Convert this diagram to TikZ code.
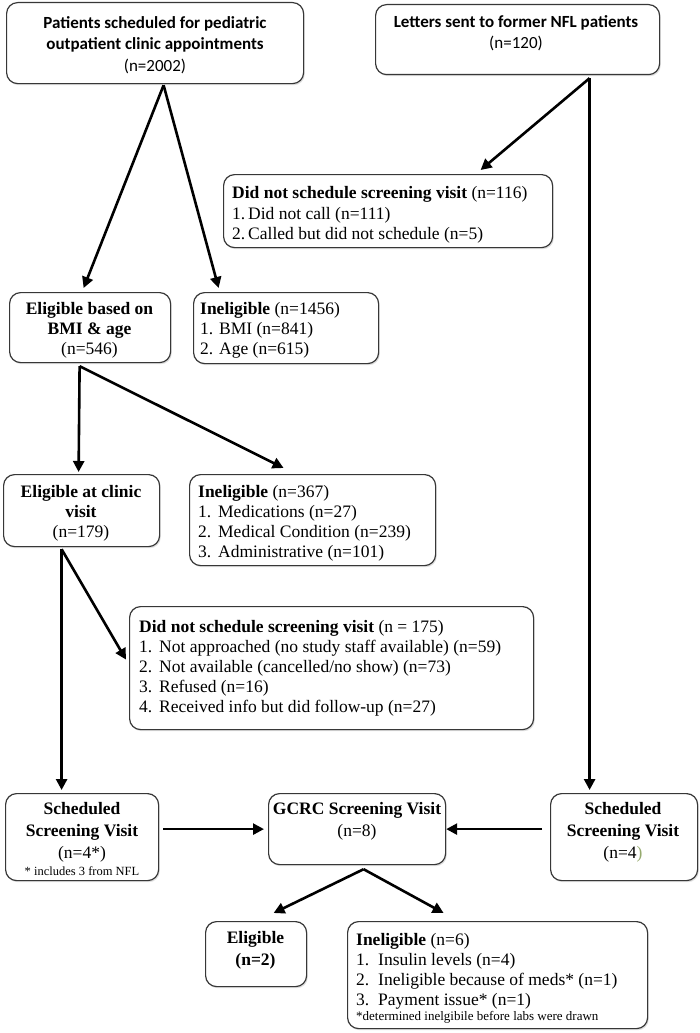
\documentclass[tikz,border=0pt]{standalone}
\usepackage{fontspec}
\setmainfont{Liberation Serif}
\newfontfamily\calfont{Carlito}
\usetikzlibrary{arrows.meta,calc,shadows}
\definecolor{boxline}{RGB}{55,55,55}
\definecolor{olivep}{RGB}{150,170,110}
\newcommand{\nm}[2]{\makebox[#1pt][l]{#2}}
\begin{document}
\begin{tikzpicture}[x=1pt,y=-1pt,
  box/.style={draw=boxline, line width=1.2pt, rounded corners=11pt, fill=white,
    inner sep=0pt, anchor=north west,
    drop shadow={shadow xshift=1.2pt, shadow yshift=-1.6pt, opacity=0.25}},
  ctxt/.style={inner sep=0pt, anchor=north, align=center, font=\fontsize{17.5}{20}\selectfont},
  ltxt/.style={inner sep=0pt, anchor=north west, align=left, font=\fontsize{17.5}{20}\selectfont},
  ctop/.style={inner sep=0pt, anchor=north, align=center, font=\calfont\fontsize{17}{21.5}\selectfont},
  note/.style={inner sep=0pt, anchor=base west, font=\fontsize{13}{15}\selectfont},
  arr/.style={line width=2.6pt, -{Triangle[length=11pt,width=11pt]}}]
\useasboundingbox (0,0) rectangle (700,1033);

% boxes
\node[box, minimum width=297pt, minimum height=81pt] (P) at (6,2) {};
\node[box, minimum width=284pt, minimum height=70pt] (L) at (375,4) {};
\node[box, minimum width=329pt, minimum height=73pt] (D1) at (223,174) {};
\node[box, minimum width=161pt, minimum height=70pt] (E1) at (9,292) {};
\node[box, minimum width=185pt, minimum height=71pt] (I1) at (193,292) {};
\node[box, minimum width=156pt, minimum height=72pt] (E2) at (3,474) {};
\node[box, minimum width=246pt, minimum height=91pt] (I2) at (189,474) {};
\node[box, minimum width=404pt, minimum height=123pt] (D2) at (129,606) {};
\node[box, minimum width=153pt, minimum height=87pt] (S1) at (5,793) {};
\node[box, minimum width=177pt, minimum height=71pt] (G) at (268,793) {};
\node[box, minimum width=147pt, minimum height=87pt] (S2) at (550,793) {};
\node[box, minimum width=101pt, minimum height=65pt] (E3) at (205,921) {};
\node[box, minimum width=300pt, minimum height=107pt] (I3) at (347,921) {};

% texts
\node[ctop] (tP) at (155,13) {\strut\textbf{Patients scheduled for pediatric}\\\textbf{outpatient clinic appointments}\\(n=2002)};
\node[ctop] (tL) at (516,12) {\strut\textbf{Letters sent to former NFL patients}\\(n=120)};
\node[ltxt, font=\fontsize{17.5}{20.5}\selectfont] (tD1) at (232,184.2) {\strut\textbf{Did not schedule screening visit} (n=116)\\\nm{16}{1.}Did not call (n=111)\\\nm{16}{2.}Called but did not schedule (n=5)};
\node[ctxt] (tE1) at (89.5,300.2) {\strut\textbf{Eligible based on}\\\textbf{BMI \& age}\\(n=546)};
\node[ltxt] (tI1) at (200,300.2) {\strut\textbf{Ineligible} (n=1456)\\\nm{19}{1.}BMI (n=841)\\\nm{19}{2.}Age (n=615)};
\node[ctxt] (tE2) at (81,483.2) {\strut\textbf{Eligible at clinic}\\\textbf{visit}\\(n=179)};
\node[ltxt] (tI2) at (198,483.2) {\strut\textbf{Ineligible} (n=367)\\\nm{20}{1.}Medications (n=27)\\\nm{20}{2.}Medical Condition (n=239)\\\nm{20}{3.}Administrative (n=101)};
\node[ltxt] (tD2) at (139,618.2) {\strut\textbf{Did not schedule screening visit} (n = 175)\\\nm{20}{1.}Not approached (no study staff available) (n=59)\\\nm{20}{2.}Not available (cancelled/no show) (n=73)\\\nm{20}{3.}Refused (n=16)\\\nm{20}{4.}Received info but did follow-up (n=27)};
\node[ctxt, font=\fontsize{17.5}{22}\selectfont] (tS1) at (82,798.7) {\strut\textbf{Scheduled}\\\textbf{Screening Visit}\\(n=4*)};
\node[inner sep=0pt, anchor=base, font=\fontsize{12.5}{14}\selectfont] (nS1) at (82,875) {* includes 3 from NFL};
\node[ctxt, font=\fontsize{17.5}{22}\selectfont] (tG) at (357,798.7) {\strut\textbf{GCRC Screening Visit}\\(n=8)};
\node[ctxt, font=\fontsize{17.5}{22}\selectfont] (tS2) at (623,798.7) {\strut\textbf{Scheduled}\\\textbf{Screening Visit}\\(n=4\textcolor{olivep}{)}};
\node[ctxt, font=\fontsize{17.5}{22}\selectfont] (tE3) at (255.5,927.7) {\strut\textbf{Eligible}\\\textbf{(n=2)}};
\node[ltxt] (tI3) at (356,931.5) {\strut\textbf{Ineligible} (n=6)\\\nm{22}{1.}Insulin levels (n=4)\\\nm{22}{2.}Ineligible because of meds* (n=1)\\\nm{22}{3.}Payment issue* (n=1)};
\node[note] (nI3) at (356,1020) {*determined inelgibile before labs were drawn};

% fork points
\coordinate (pa) at ($(P.south)+(8.5,1)$);
\coordinate (la) at ($(L.south)+(72,3)$);
\coordinate (ea) at ($(E1.south)+(-10.5,3)$);
\coordinate (eb) at ($(E2.south)+(-20,2)$);
\coordinate (ga) at ($(G.south)+(6.5,4)$);

% connectors
\draw[arr] (pa) -- ($(E1.north)+(-6.5,-4)$);
\draw[arr] (pa) -- ($(I1.north)+(-67.5,-4)$);
\draw[arr] (la) -- ($(S2.north)+(-34.5,-3)$);
\draw[arr] (la) -- ($(D1.north)+(92.5,-4)$);
\draw[arr] (ea) -- ($(E2.north)+(-3,-2)$);
\draw[arr] (ea) -- ($(I2.north)+(-29,-6)$);
\draw[arr] (eb) -- ($(S1.north)+(-20.5,-3)$);
\draw[arr] (eb) -- ($(D2.west)+(-3,-8.5)$);
\draw[arr] ($(S1.east |- G.west)+(4,0)$) -- ($(G.west)+(-4,0)$);
\draw[arr] ($(S2.west |- G.east)+(-8,0)$) -- (G.east);
\draw[arr] (ga) -- ($(E3.north)+(17.5,-8)$);
\draw[arr] (ga) -- ($(I3.north)+(-54,-8)$);
\end{tikzpicture}
\end{document}
